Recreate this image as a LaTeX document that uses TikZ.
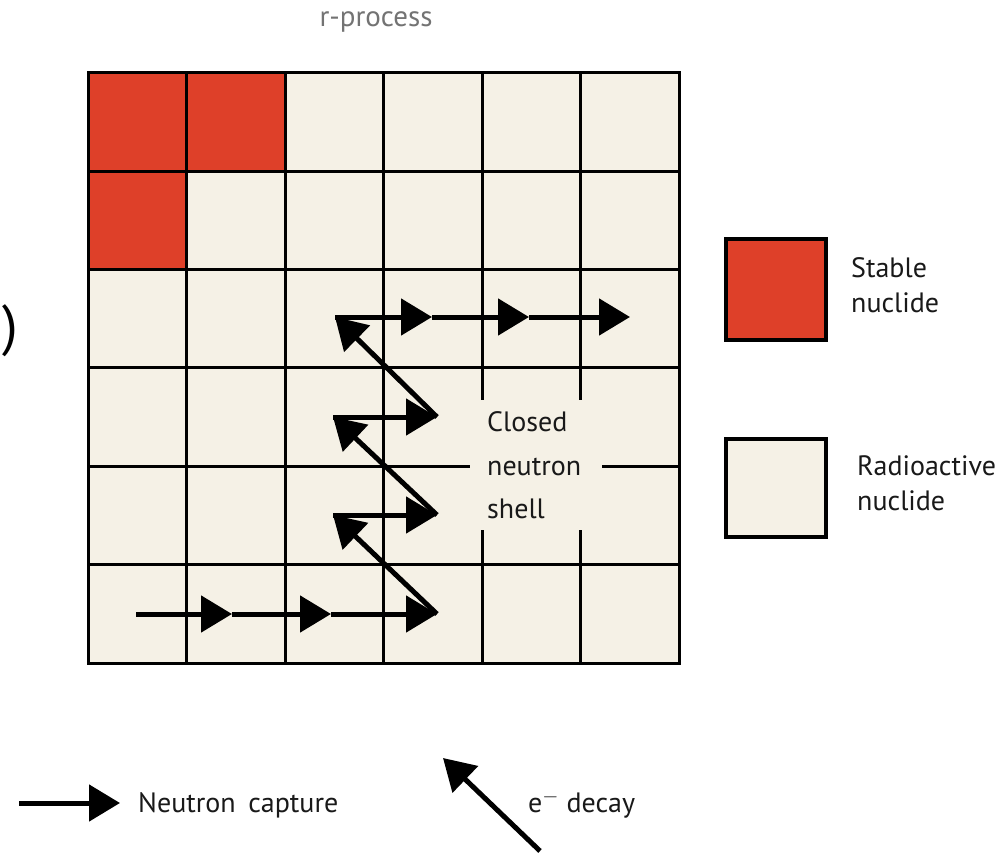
\documentclass[tikz,border=0pt]{standalone}
\usepackage{fontspec}
\setmainfont{PT Sans}
\usetikzlibrary{arrows.meta}
\definecolor{cream}{RGB}{245,241,230}
\definecolor{stablered}{RGB}{222,64,41}
\definecolor{txt}{RGB}{25,25,25}
\begin{document}
\begin{tikzpicture}[x=1pt,y=-1pt,
  gridline/.style={line width=3pt},
  capt/.style={line width=5pt, -{Triangle[length=31pt,width=36pt]}},
  lbl/.style={font=\fontsize{28}{35}\selectfont, text=txt, align=left, inner sep=0pt, anchor=base west},
  legbox/.style={draw=black, line width=3.5pt}]
\useasboundingbox (0,0) rectangle (1003,853);
% grid background
\fill[cream] (88,73) rectangle (679,663);
\fill[stablered] (88,73) rectangle (284.7,171.3);
\fill[stablered] (88,171.3) rectangle (186.5,269.7);
\foreach \i in {1,...,5}{
  \draw[gridline] (88+98.5*\i,73) -- (88+98.5*\i,663);
  \draw[gridline] (88,73+98.33*\i) -- (679,73+98.33*\i);
}
\draw[gridline] (88,73) rectangle (679,663);
% closed shell label (covers grid lines)
\node[fill=cream, inner xsep=17pt, inner ysep=0pt, minimum width=132pt, minimum height=130pt,
      text width=98pt, align=left, anchor=north west, text=txt,
      font=\fontsize{28}{43.5}\selectfont] (shell) at (470,400) {Closed\\neutron\\shell};
% path coordinates
\coordinate (b0) at (136,614);
\coordinate (b1) at (232,614);
\coordinate (b2) at (331,614);
\coordinate (b3) at (437,614);
\coordinate (c0) at (333,515);
\coordinate (c1) at (437,515);
\coordinate (e0) at (333,417);
\coordinate (e1) at (437,417);
\coordinate (t0) at (335,317);
\coordinate (t1) at (432,317);
\coordinate (t2) at (529,317);
\coordinate (t3) at (630,317);
% neutron captures
\draw[capt] (b0) -- (b1);
\draw[capt] (b1) -- (b2);
\draw[capt] (b2) -- (b3);
\draw[capt] (c0) -- (c1);
\draw[capt] (e0) -- (e1);
\draw[capt] (t0) -- (t1);
\draw[capt] (t1) -- (t2);
\draw[capt] (t2) -- (t3);
% beta decays
\draw[capt] (b3) -- (c0);
\draw[capt] (c1) -- (e0);
\draw[capt] (e1) -- (t0);
% title
\node[font=\fontsize{29}{35}\selectfont, text=black!55, inner sep=0pt, anchor=base] (title) at (376,27) {r-process};
% left parenthesis fragment
\node[font=\fontsize{56}{60}\selectfont, inner sep=0pt, anchor=base east] (paren) at (18,344) {)};
% legend squares
\draw[legbox, fill=stablered] (726,239) rectangle (826,340);
\node[lbl] (stable) at (851,312) {Stable\\nuclide};
\draw[legbox, fill=cream] (726,439) rectangle (826,537);
\node[lbl] (radio) at (857,510) {Radioactive\\nuclide};
% bottom legend
\coordinate (n0) at (19,803);
\coordinate (n1) at (120,803);
\draw[capt] (n0) -- (n1);
\node[lbl] (ncap) at (138,812) {Neutron\hspace{0.45em}capture};
\coordinate (d0) at (540,851);
\coordinate (d1) at (443,758);
\draw[capt] (d0) -- (d1);
\node[lbl] (decay) at (528,812) {e$^{-}$ decay};
\end{tikzpicture}
\end{document}
